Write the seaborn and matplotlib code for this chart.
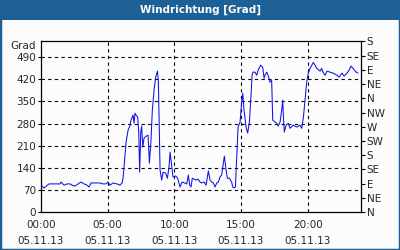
import matplotlib
matplotlib.use("Agg")
import matplotlib.pyplot as plt
from matplotlib.patches import Rectangle
import seaborn as sns
import pandas as pd

# time of day in hours, wind direction in degrees
hours = [0.00, 0.23, 0.60, 1.05, 1.43, 1.50, 1.73, 1.95, 2.18, 2.33, 2.55, 2.78, 3.00, 3.23, 3.45, 3.60,
         3.75, 4.05, 4.43, 4.65, 4.88, 5.03, 5.18, 5.40, 5.70, 5.93, 6.08,
         6.15, 6.23, 6.38, 6.53, 6.68, 6.75, 6.83, 6.90, 6.98, 7.05, 7.13, 7.25, 7.33, 7.40, 7.48, 7.55,
         7.63, 7.73, 7.88, 8.03, 8.13, 8.25, 8.35, 8.48, 8.60, 8.73, 8.80, 8.85, 8.93, 9.05, 9.15, 9.35,
         9.48, 9.60, 9.68, 9.78, 9.90, 10.10, 10.25, 10.43, 10.58, 10.78, 10.93, 11.05, 11.15, 11.25, 11.35,
         11.48, 11.63, 11.78, 11.93, 12.05, 12.23, 12.38, 12.55, 12.68, 12.80, 12.93, 13.05, 13.18, 13.30,
         13.43, 13.55, 13.68, 13.75, 13.88, 13.98, 14.13, 14.30, 14.38, 14.48, 14.58, 14.68, 14.73, 14.78,
         14.93, 15.05, 15.13, 15.23, 15.38, 15.50, 15.63, 15.73, 15.83, 15.90, 16.05, 16.18, 16.28, 16.48,
         16.63, 16.73, 16.80, 16.93, 17.03, 17.18, 17.30, 17.38, 17.55, 17.68, 17.78, 17.93, 18.05, 18.13,
         18.18, 18.25, 18.38, 18.55, 18.68, 18.90, 19.18, 19.43, 19.55, 19.68, 19.80, 19.93, 20.05, 20.18,
         20.43, 20.68, 20.93, 21.05, 21.15, 21.30, 21.45, 21.68, 21.90, 22.20, 22.35, 22.58, 22.73, 22.95,
         23.10, 23.25, 23.40, 23.63, 23.78]
direction = [85, 76, 89, 89, 89, 95, 85, 89, 89, 85, 82, 89, 95, 89, 85, 79,
             92, 92, 92, 89, 89, 95, 85, 92, 89, 85, 92,
             107, 142, 221, 259, 275, 291, 300, 307, 281, 313, 307, 300, 253, 126, 253, 272,
             206, 234, 240, 243, 155, 228, 322, 386, 427, 446, 417, 310, 133, 101, 126, 123,
             107, 142, 190, 155, 111, 114, 107, 79, 95, 92, 89, 117, 85, 79, 107,
             104, 101, 104, 95, 92, 95, 85, 130, 101, 95, 92, 79, 92, 95,
             111, 117, 155, 177, 133, 107, 107, 95, 79, 76, 79, 174, 228, 269,
             285, 348, 376, 322, 269, 250, 285, 354, 433, 443, 443, 433, 449, 465,
             458, 424, 433, 443, 433, 411, 417, 291, 285, 281, 272, 285, 322, 354,
             300, 253, 275, 281, 265, 275, 269, 275, 265, 300, 354, 411, 440, 455,
             474, 455, 446, 455, 443, 433, 446, 443, 440, 433, 427, 440, 430, 440,
             449, 462, 455, 443, 440]

left_ticks = [0, 70, 140, 210, 280, 350, 420, 490]
right_ticks = [0, 45, 90, 135, 180, 225, 270, 315, 360, 405, 450, 495, 540]
right_labels = ["N", "NE", "E", "SE", "S", "SW", "W", "NW", "N", "NE", "E", "SE", "S"]
x_major = [0, 5, 10, 15, 20]
x_labels = ["00:00\n05.11.13", "05:00\n05.11.13", "10:00\n05.11.13", "15:00\n05.11.13", "20:00\n05.11.13"]
title = "Windrichtung [Grad]"
unit = "Grad"

sns.set_style("white")
plt.rcParams["font.family"] = ["DejaVu Sans"]

BLUE = "#1c6095"
BG = "#fbfcfb"

fig = plt.figure(figsize=(4, 2.5), dpi=100, facecolor=BG)
# frame and title bar
fig.patches.append(Rectangle((0, 0), 1, 1, transform=fig.transFigure, fill=False,
                             edgecolor=BLUE, linewidth=2.5, zorder=0))
fig.patches.append(Rectangle((0, 1 - 20 / 250), 1, 20 / 250, transform=fig.transFigure,
                             facecolor=BLUE, edgecolor="none", zorder=1))
fig.text(0.5, 1 - 10 / 250, title, color="white", fontsize=7.5, fontweight="bold",
         ha="center", va="center")

ax = fig.add_axes([41 / 400, 1 - 212 / 250, 320 / 400, (212 - 41.5) / 250])
ax.set_facecolor(BG)

df = pd.DataFrame({"hour": hours, "dir": direction})
sns.lineplot(data=df, x="hour", y="dir", ax=ax, color="#1010e8", linewidth=0.75)

ax.set_xlim(0, 24)
ax.set_ylim(0, 540)
ax.set_xlabel("")
ax.set_ylabel("")

ax.set_yticks(left_ticks)
ax.set_yticklabels([str(v) for v in left_ticks])
ax.set_xticks(x_major)
ax.set_xticklabels(x_labels, linespacing=1.75)
ax.set_xticks(range(0, 25), minor=True)
ax.tick_params(axis="x", which="both", direction="in", length=3, width=0.8, color="black",
               labelsize=7.5, pad=6)
ax.tick_params(axis="y", which="both", direction="out", length=2, width=0.8, color="black",
               labelsize=7.5, pad=1.5)

for v in left_ticks[1:]:
    ax.axhline(v, color="black", linewidth=0.8, linestyle=(0, (3, 3)), zorder=0.5)
for v in x_major[1:]:
    ax.axvline(v, color="black", linewidth=0.8, linestyle=(0, (3, 3)), zorder=0.5)

for s in ax.spines.values():
    s.set_color("black")
    s.set_linewidth(0.9)

ax2 = ax.twinx()
ax2.set_ylim(0, 540)
ax2.set_yticks(right_ticks)
ax2.set_yticklabels(right_labels)
ax2.tick_params(axis="y", direction="out", length=3, width=0.8, color="black", labelsize=7.5, pad=1)
for s in ax2.spines.values():
    s.set_visible(False)

fig.text(36 / 400, 1 - 46 / 250, unit, fontsize=7.5, ha="right", va="center")

fig.savefig("out.png", dpi=100, facecolor=BG)
